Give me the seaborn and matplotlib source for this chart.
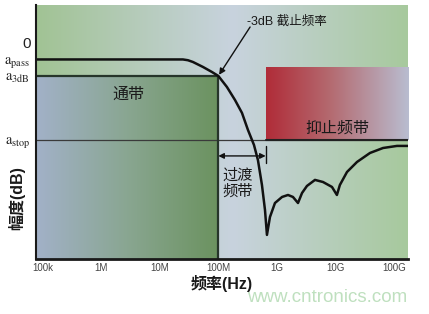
import numpy as np
import pandas as pd
import matplotlib
matplotlib.use("Agg")
import matplotlib.pyplot as plt
from matplotlib.colors import LinearSegmentedColormap
from matplotlib.ticker import NullLocator
import seaborn as sns

# Filter magnitude response: frequency (Hz) and attenuation (dB)
freq_hz = [7.8e4, 2.49e7, 3.03e7, 3.69e7, 5.46e7, 7.78e7, 1.0e8, 1.40e8, 1.92e8, 2.53e8,
           3.20e8, 4.05e8, 4.73e8, 5.54e8, 6.24e8, 6.74e8, 7.59e8, 9.23e8, 1.22e9,
           1.54e9, 1.87e9, 2.28e9, 2.67e9, 3.24e9, 4.44e9, 6.08e9, 8.65e9, 1.05e10,
           1.18e10, 1.56e10, 2.31e10, 3.85e10, 6.41e10, 1.11e11, 1.71e11]
gain_db = [-1.5, -1.5, -1.57, -1.73, -2.18, -2.64, -3.0, -4.0, -5.18, -6.36,
           -7.91, -9.27, -10.64, -12.91, -15.18, -17.45, -15.82, -14.55, -14.0,
           -13.82, -14.0, -14.55, -13.64, -13.0, -12.45, -12.64, -13.09, -13.82,
           -12.91, -11.73, -10.82, -10.0, -9.55, -9.36, -9.36]

# Reference levels on the magnitude axis
level_values = [0.0, -1.5, -3.0, -8.8]
level_labels = ["0", r"$\mathrm{a}_{\mathrm{pass}}$", r"$\mathrm{a}_{\mathrm{3dB}}$",
                r"$\mathrm{a}_{\mathrm{stop}}$"]
a_pass, a_3db, a_stop = level_values[1], level_values[2], level_values[3]

# Frequency ticks
tick_freqs = [1e5, 1e6, 1e7, 1e8, 1e9, 1e10, 1e11]
tick_labels = ["100k", "1M", "10M", "100M", "1G", "10G", "100G"]

# Band edges
passband_edge = 1.0e8
stopband_edge = 6.41e8
stopband_top = -2.2

x_lim = (7.8e4, 1.71e11)
y_lim = (-19.64, 3.45)

sns.set_style("white")
plt.rcParams["font.family"] = ["Liberation Sans", "Noto Sans CJK SC", "DejaVu Sans"]
plt.rcParams["mathtext.fontset"] = "stix"

fig = plt.figure(figsize=(4.29, 3.14), dpi=100, facecolor="white")
ax = fig.add_axes([36 / 429, 55 / 314, 372 / 429, 254 / 314])
ax.set_xscale("log")
ax.set_xlim(*x_lim)
ax.set_ylim(*y_lim)
ax.set_autoscale_on(False)


def to_axes(x, y):
    return (ax.transScale + ax.transLimits).transform((x, y))


def gradient_box(x0, x1, y0, y1, colors, z):
    cmap = LinearSegmentedColormap.from_list("g", colors)
    (u0, v0) = to_axes(x0, y0)
    (u1, v1) = to_axes(x1, y1)
    ax.imshow(np.linspace(0, 1, 256)[None, :], cmap=cmap, aspect="auto",
              extent=(u0, u1, v0, v1), transform=ax.transAxes,
              interpolation="bicubic", zorder=z)


# background, pass band and stop band fills
gradient_box(x_lim[0], x_lim[1], y_lim[0], y_lim[1],
             [(0.0, "#a1c394"), (0.53, "#c8d3de"), (1.0, "#a7c99d")], 0)
gradient_box(x_lim[0], passband_edge, y_lim[0], a_3db,
             [(0.0, "#a2b1c8"), (0.5, "#89a691"), (1.0, "#6b925f")], 1)
gradient_box(stopband_edge, x_lim[1], a_stop, stopband_top,
             [(0.0, "#b02c38"), (0.45, "#b46a70"), (1.0, "#b9bdd0")], 1)

ax.set_xlim(*x_lim)
ax.set_ylim(*y_lim)

# level lines and band outlines
ax.axhline(a_stop, color="#3a3a3a", lw=0.9, zorder=2)
ax.plot([x_lim[0], passband_edge, passband_edge], [a_3db, a_3db, y_lim[0]],
        color="#26352a", lw=1.6, zorder=2)
ax.plot([stopband_edge, x_lim[1]], [a_stop, a_stop], color="#222222", lw=1.5, zorder=2)

# response curve
df = pd.DataFrame({"freq": freq_hz, "gain": gain_db})
sns.lineplot(data=df, x="freq", y="gain", ax=ax, color="#111111", lw=1.8,
             sort=False, zorder=3)
ax.lines[-1].set_solid_joinstyle("round")

# transition band marker
ax.annotate("", xy=(passband_edge, -10.27), xytext=(stopband_edge, -10.27),
            arrowprops=dict(arrowstyle="<|-|>", color="#111111", lw=1.0,
                            mutation_scale=8, shrinkA=0, shrinkB=0), zorder=4)
ax.plot([stopband_edge, stopband_edge], [-9.36, -10.9], color="#111111", lw=1.0, zorder=4)

# -3 dB cutoff callout
ax.annotate("", xy=(passband_edge, a_3db), xytext=(3.48e8, 1.45),
            arrowprops=dict(arrowstyle="-|>", color="#111111", lw=1.0,
                            mutation_scale=9, shrinkA=0, shrinkB=1), zorder=4)
ax.text(3.07e8, 1.91, "-3dB 截止频率", fontsize=9, color="#1a1a1a",
        ha="left", va="center", zorder=4)

ax.text(2.87e6, -4.64, "通带", fontsize=11.5, color="#1a1a1a",
        ha="center", va="center", zorder=4)
ax.text(1.05e10, -7.73, "抑止频带", fontsize=11.5, color="#1a1a1a",
        ha="center", va="center", zorder=4)
ax.text(2.16e8, -12.8, "过渡\n频带", fontsize=11, color="#1a1a1a",
        ha="center", va="center", linespacing=1.15, zorder=4)

# axes styling
for side in ["top", "right"]:
    ax.spines[side].set_visible(False)
ax.spines["left"].set_color("#1a1a1a")
ax.spines["left"].set_linewidth(1.5)
ax.spines["bottom"].set_color("#1a1a1a")
ax.spines["bottom"].set_linewidth(2.0)
for sp in ax.spines.values():
    sp.set_zorder(5)

ax.set_xticks(tick_freqs)
ax.set_xticklabels(tick_labels, fontsize=7, color="#444444")
ax.xaxis.set_minor_locator(NullLocator())
ax.set_yticks(level_values)
ax.set_yticklabels(level_labels, fontsize=10.5, color="#222222")
ax.get_yticklabels()[0].set_fontsize(11)
ax.tick_params(axis="both", length=0)
ax.tick_params(axis="x", pad=3)
ax.tick_params(axis="y", pad=4)

ax.set_xlabel("频率(Hz)", fontsize=11.5, fontweight="bold", color="#1a1a1a")
ax.xaxis.set_label_coords(0.5, -0.063)
ax.set_ylabel("幅度(dB)", fontsize=11.5, fontweight="bold", color="#1a1a1a")
ax.yaxis.set_label_coords(-0.030, 0.24)

fig.text(327 / 429, 1 - 298 / 314, "www.cntronics.com", fontsize=13.5,
         color="#bfe0bf", ha="center", va="center")

fig.savefig("out.png", dpi=100, facecolor="white")
